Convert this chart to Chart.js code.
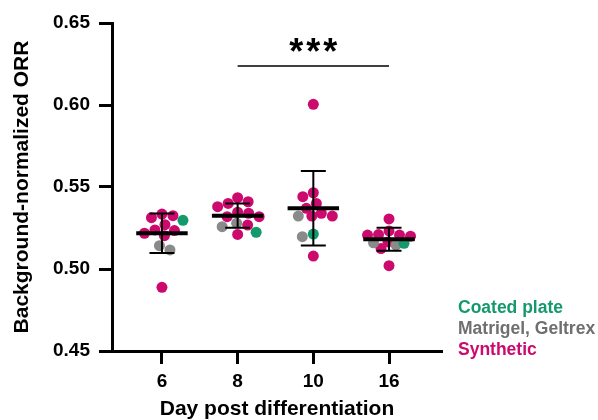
<!DOCTYPE html>
<html lang="en">
<head>
<meta charset="UTF-8">
<title>Background-normalized ORR</title>
<script src="https://cdn.jsdelivr.net/npm/chart.js"></script>
<style>
  body { margin: 0; background: #fff; }
  #wrap { width: 598px; height: 420px; }
</style>
</head>
<body>
<div id="wrap"><canvas id="orrChart" width="598" height="420"></canvas></div>
<script>
// values, one inner array per day
const days = ['6', '8', '10', '16'];
const coatedPlate = [[0.5297], [0.5224], [0.5213], [0.5157]];
const matrigelGeltrex = [[0.5142, 0.5116], [0.5279, 0.5258], [0.5323, 0.5197], [0.5160, 0.5145]];
const synthetic = [
  [0.5335, 0.5325, 0.5313, 0.5270, 0.5238, 0.5234, 0.5218, 0.5203, 0.4888],
  [0.5435, 0.5410, 0.5400, 0.5380, 0.5346, 0.5340, 0.5319, 0.5319, 0.5268, 0.5211],
  [0.6004, 0.5465, 0.5441, 0.5400, 0.5370, 0.5340, 0.5323, 0.5323, 0.5079],
  [0.5305, 0.5232, 0.5210, 0.5207, 0.5207, 0.5200, 0.5165, 0.5125, 0.5020]
];
const groupMeans = [0.5218, 0.5325, 0.5370, 0.5181];
const groupSD = [0.0120, 0.0074, 0.0227, 0.0070];
const yTicks = [0.45, 0.50, 0.55, 0.60, 0.65];
const sigPair = [1, 3];
const sigY = 0.6238;
const sigText = '***';
const legendNames = ['Coated plate', 'Matrigel, Geltrex', 'Synthetic'];

const GREEN = '#14996b', GRAY = '#8a8a8a', MAGENTA = '#cc0a6e';
const FONT = "'Liberation Sans', Arial, sans-serif";
Chart.defaults.font.family = FONT;

// simple beeswarm, capped in width; px per unit is fixed by the layout below
const PX_X = 75.7, PX_Y = 1640, DOT = 11, HALF_W = 22;
function swarm(g) {
  const pts = [];
  coatedPlate[g].forEach(v => pts.push({ v, s: 0 }));
  matrigelGeltrex[g].forEach(v => pts.push({ v, s: 1 }));
  synthetic[g].forEach(v => pts.push({ v, s: 2 }));
  pts.sort((a, b) => b.v - a.v);
  const placed = [];
  pts.forEach((p, n) => {
    const py = p.v * PX_Y;
    const gap = c => placed.reduce((m, q) => Math.min(m, Math.hypot(q.dx - c, q.py - py)), Infinity);
    let dx = null, bestC = 0, bestGap = -1;
    for (let k = 0; k <= HALF_W * 2 && dx === null; k++) {
      const cands = k === 0 ? [0] : (n % 2 ? [k * 0.5, -k * 0.5] : [-k * 0.5, k * 0.5]);
      for (const c of cands) {
        const d = gap(c);
        if (d >= DOT) { dx = c; break; }
        if (d > bestGap) { bestGap = d; bestC = c; }
      }
    }
    if (dx === null) dx = bestC;
    placed.push({ dx, py });
    p.x = g + dx / PX_X;
  });
  return pts;
}

const sets = [[], [], []];
days.forEach((d, g) => swarm(g).forEach(p => sets[p.s].push({ x: p.x, y: p.v })));

const overlay = {
  id: 'overlay',
  afterDatasetsDraw(chart) {
    const { ctx, scales: { x, y }, chartArea } = chart;
    ctx.save();
    ctx.strokeStyle = '#000';
    groupMeans.forEach((m, i) => {
      const sd = groupSD[i];
      const cx = x.getPixelForValue(i);
      const yt = y.getPixelForValue(m + sd), yb = y.getPixelForValue(m - sd);
      ctx.lineWidth = 2;
      ctx.beginPath();
      ctx.moveTo(cx, yt); ctx.lineTo(cx, yb);
      ctx.moveTo(x.getPixelForValue(i - 0.165), yt); ctx.lineTo(x.getPixelForValue(i + 0.165), yt);
      ctx.moveTo(x.getPixelForValue(i - 0.165), yb); ctx.lineTo(x.getPixelForValue(i + 0.165), yb);
      ctx.stroke();
      ctx.lineWidth = 4;
      const ym = y.getPixelForValue(m);
      ctx.beginPath();
      ctx.moveTo(x.getPixelForValue(i - 0.34), ym); ctx.lineTo(x.getPixelForValue(i + 0.34), ym);
      ctx.stroke();
    });

    // significance bar
    const sy = y.getPixelForValue(sigY);
    const x1 = x.getPixelForValue(sigPair[0]), x2 = x.getPixelForValue(sigPair[1]);
    ctx.lineWidth = 1.5;
    ctx.beginPath();
    ctx.moveTo(x1, sy); ctx.lineTo(x2, sy);
    ctx.stroke();
    ctx.fillStyle = '#000';
    ctx.font = 'bold 36px ' + FONT;
    ctx.textAlign = 'center';
    ctx.textBaseline = 'alphabetic';
    const mid = (x1 + x2) / 2;
    [...sigText].forEach((ch, k) => ctx.fillText(ch, mid + (k - 1) * 17, sy - 2));

    // legend text
    ctx.font = 'bold 17.5px ' + FONT;
    ctx.textAlign = 'left';
    ctx.textBaseline = 'middle';
    [GREEN, '#6f6f6f', MAGENTA].forEach((c, i) => {
      ctx.fillStyle = c;
      ctx.fillText(legendNames[i], chartArea.right + 16, chartArea.bottom - 43 + i * 21);
    });
    ctx.restore();
  }
};

const axisFont = { family: FONT, size: 19, weight: 'bold' };
const titleFont = { family: FONT, size: 21, weight: 'bold' };
const gridOpts = { drawOnChartArea: false, drawTicks: true, tickLength: 13, tickWidth: 3, tickColor: '#000' };

new Chart(document.getElementById('orrChart'), {
  type: 'scatter',
  data: {
    datasets: [
      { label: legendNames[0], data: sets[0], backgroundColor: GREEN },
      { label: legendNames[1], data: sets[1], backgroundColor: GRAY },
      { label: legendNames[2], data: sets[2], backgroundColor: MAGENTA }
    ]
  },
  options: {
    responsive: false,
    animation: false,
    devicePixelRatio: 1,
    layout: { padding: { top: 23, right: 156, bottom: 0, left: 0 } },
    elements: { point: { radius: 5.5, borderWidth: 0, hoverRadius: 5.5 } },
    plugins: { legend: { display: false }, tooltip: { enabled: false } },
    scales: {
      x: {
        type: 'linear',
        min: -0.66,
        max: 3.7,
        afterBuildTicks: s => { s.ticks = days.map((d, i) => ({ value: i })); },
        afterFit: s => { s.height = 69; },
        ticks: { callback: v => days[v], color: '#000', font: axisFont, padding: 6 },
        grid: gridOpts,
        border: { color: '#000', width: 3 },
        title: { display: true, text: 'Day post differentiation', color: '#000',
                 font: titleFont, padding: { top: 0, bottom: -2 } }
      },
      y: {
        min: 0.45,
        max: 0.65,
        afterBuildTicks: s => { s.ticks = yTicks.map(v => ({ value: v })); },
        afterFit: s => { s.width = 112; },
        ticks: { callback: v => v.toFixed(2), color: '#000', font: axisFont, padding: 9 },
        grid: gridOpts,
        border: { color: '#000', width: 3 },
        title: { display: true, text: 'Background-normalized ORR', color: '#000',
                 font: titleFont, padding: { top: 10, bottom: 0 } }
      }
    }
  },
  plugins: [overlay]
});
</script>
</body>
</html>
